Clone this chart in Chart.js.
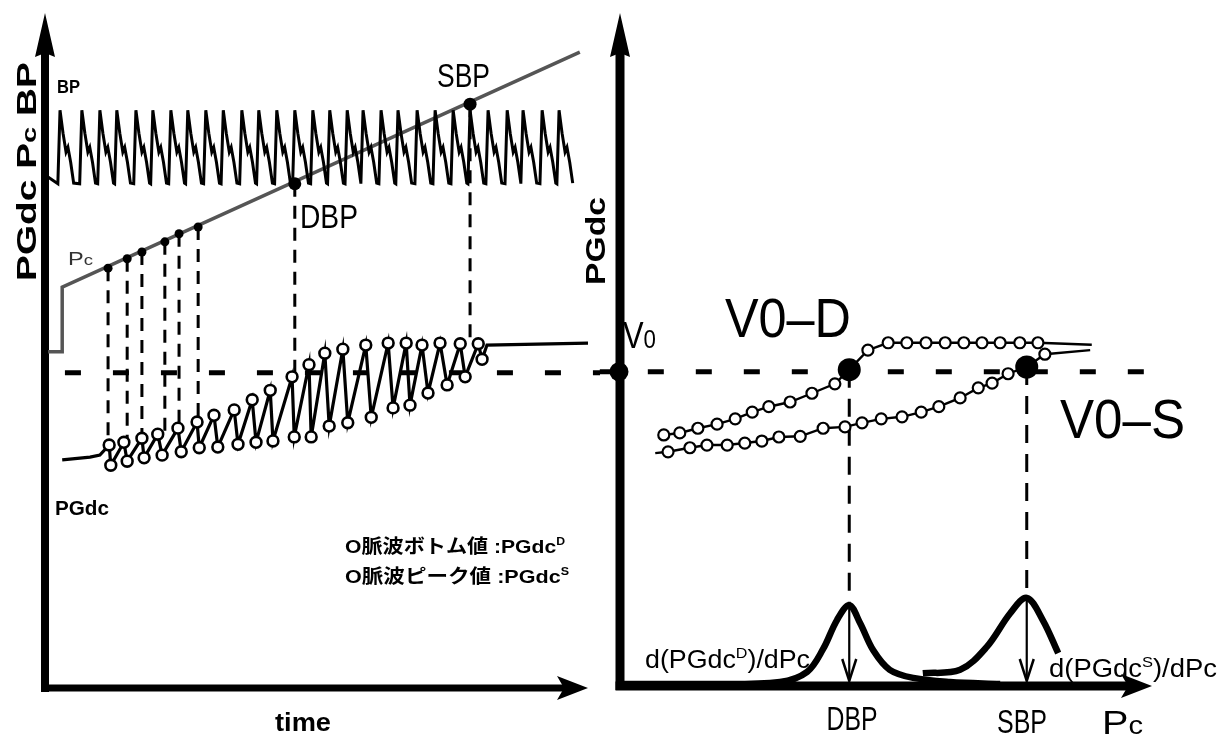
<!DOCTYPE html>
<html>
<head>
<meta charset="utf-8">
<script src="https://cdn.jsdelivr.net/npm/chart.js@4.4.1/dist/chart.umd.min.js"></script>
<style>
  body { margin: 0; background: #fff; }
  #wrap { position: relative; width: 1218px; height: 739px; }
  #left { position: absolute; left: 0; top: 0; width: 610px; height: 739px; }
  #right { position: absolute; left: 560px; top: 0; width: 658px; height: 739px; }
</style>
</head>
<body>
<div id="wrap">
  <div id="left"><canvas id="leftChart"></canvas></div>
  <div id="right"><canvas id="rightChart"></canvas></div>
</div>
<script>
// left panel: BP, cuff pressure Pc and PGdc over time (arbitrary units 0-100)
const bpPeakTimes = [3.3, 7.3, 10.6, 13.7, 17.2, 20.3, 23.6, 26.7, 30.0, 33.2, 36.6, 39.7, 43.0, 46.3, 49.6,
                     52.7, 55.9, 58.8, 62.1, 65.2, 68.7, 72.0, 75.3, 78.4, 81.7, 85.2, 88.1, 91.6, 94.7];
// one pulse: offsets from the peak and levels
const pulseOffsets = [-0.4, 0, 0.55, 1.1, 1.45, 1.95, 2.5];
const pulseLevels = [74.7, 85.6, 82.2, 79.4, 80.1, 77.9, 74.8];
const bpLead = [1.1, 75.7];

const pcTimes = [1.1, 3.7, 3.7, 98.5];
const pcLevels = [49.8, 49.8, 59.4, 94.2];

// sample points on Pc (last two are DBP and SBP) and where their dashed drops end
const markTimes = [12.1, 15.6, 18.3, 22.5, 25.1, 28.6, 46.3, 78.4];
const markPc = [62.2, 63.6, 64.6, 66.1, 67.3, 68.3, 74.7, 86.5];
const markFoot = [35.7, 36.3, 36.7, 37.3, 38.2, 39.1, 45.9, 50.8];

const pgTopTimes = [12.3, 15.0, 18.3, 21.2, 24.9, 28.4, 31.5, 35.2, 38.5, 41.8, 45.8, 48.9, 51.8, 55.1, 59.3, 63.4, 66.7, 69.6, 72.9, 76.6, 79.9];
const pgTopLevels = [36.0, 36.4, 37.0, 37.6, 38.5, 39.4, 40.4, 41.2, 42.7, 44.1, 46.1, 47.9, 49.6, 50.2, 50.8, 51.1, 51.1, 50.8, 51.1, 51.0, 51.0];
const pgBottomTimes = [12.6, 15.6, 18.7, 22.0, 25.5, 28.8, 32.2, 35.9, 39.2, 42.3, 46.2, 49.3, 52.6, 56.0, 60.3, 64.3, 67.4, 70.7, 74.2, 77.5, 80.6];
const pgBottomLevels = [33.0, 33.6, 34.1, 34.5, 35.0, 35.6, 35.7, 36.1, 36.4, 36.6, 37.2, 37.2, 38.8, 39.3, 40.1, 41.5, 41.9, 43.7, 44.9, 46.1, 48.7];
const pgLeadTimes = [3.7, 8.8, 10.6];
const pgLeadLevels = [33.8, 34.2, 34.5];
const pgTailTimes = [81.5, 100];
const pgTailLevels = [50.8, 51.1];

const v0Level = 46.7;

// right panel: PGdc against Pc
const dCurvePc = [7.7, 8.4, 11.4, 14.8, 18.4, 21.8, 25.0, 28.1, 32.1, 36.2, 40.5, 43.2, 46.7, 50.5, 54.0, 57.6, 61.2, 64.7, 68.1, 71.5, 75.2, 78.6, 88.7];
const dCurveLevels = [37.7, 37.3, 37.6, 38.3, 38.9, 39.7, 40.7, 41.5, 42.2, 43.5, 44.9, 47.0, 49.9, 51.0, 51.0, 51.0, 51.0, 51.0, 51.0, 51.0, 51.0, 51.0, 50.7];
const sCurvePc = [6.8, 9.2, 13.3, 16.5, 20.3, 23.6, 26.8, 30.0, 34.0, 38.3, 42.4, 45.6, 49.2, 53.1, 56.7, 60.0, 64.0, 67.4, 70.0, 73.0, 76.5, 79.9, 88.4];
const sCurveLevels = [34.6, 34.8, 35.4, 35.8, 35.8, 36.1, 36.4, 37.0, 37.1, 38.3, 38.5, 39.1, 39.7, 40.0, 40.7, 41.5, 42.8, 44.3, 45.0, 46.4, 47.4, 49.3, 49.9];
const dbpPc = 43.2, dbpLevel = 47.0;
const sbpPc = 76.5, sbpLevel = 47.4;

const dDerivPc = [0, 15.2, 30.2, 35.3, 38.3, 40.9, 43.2, 45.2, 47.7, 50.8, 55.2, 62.1, 71.5];
const dDerivLevels = [0.3, 0.3, 0.6, 2.1, 5.5, 9.8, 12.0, 9.4, 5.3, 2.4, 1.2, 0.6, 0.3];
const sDerivPc = [57.0, 64.0, 69.0, 73.4, 76.5, 79.5, 82.4];
const sDerivLevels = [1.9, 2.4, 5.8, 10.8, 13.1, 9.8, 4.9];

const F = "'Liberation Sans', Arial, sans-serif";
const J = "'Noto Sans CJK JP', sans-serif";

const pts = (xs, ys) => xs.map((x, i) => ({x: x, y: ys[i]}));

const lineSet = (data, width, opts) => Object.assign({
  data: data, showLine: true, borderColor: '#000', borderWidth: width, pointRadius: 0,
  pointHoverRadius: 0, fill: false, tension: 0, clip: false, order: 2
}, opts || {});

const dotSet = (data, r, fill, bw, opts) => Object.assign({
  data: data, showLine: false, pointRadius: r, pointHoverRadius: r, pointBackgroundColor: fill,
  pointBorderColor: '#000', pointBorderWidth: bw, clip: false, order: 0
}, opts || {});

// text with mixed runs, squeezed to the width it has in the picture
function drawRuns(ctx, it) {
  ctx.save();
  let total = 0;
  it.runs.forEach(r => { ctx.font = r[1] + ' ' + (r[3] || F); total += ctx.measureText(r[0]).width; });
  const s = it.w ? it.w / total : 1;
  ctx.translate(it.x, it.y);
  if (it.rot) ctx.rotate(-Math.PI / 2);
  ctx.scale(s, 1);
  let cx = it.align === 'center' ? -total / 2 : 0;
  ctx.fillStyle = it.color || '#000';
  ctx.textBaseline = 'alphabetic';
  it.runs.forEach(r => {
    ctx.font = r[1] + ' ' + (r[3] || F);
    ctx.fillText(r[0], cx, r[2] || 0);
    cx += ctx.measureText(r[0]).width;
  });
  ctx.restore();
}

function arrowHead(ctx, x, y, dx, dy, len, half, notch) {
  const nx = -dy, ny = dx;
  ctx.beginPath();
  ctx.moveTo(x, y);
  ctx.lineTo(x - dx * len + nx * half, y - dy * len + ny * half);
  ctx.lineTo(x - dx * (len - notch), y - dy * (len - notch));
  ctx.lineTo(x - dx * len - nx * half, y - dy * len - ny * half);
  ctx.closePath();
  ctx.fill();
}

function axesPlugin(offset, vWidth, hWidth) {
  return {
    id: 'axes',
    beforeDatasetsDraw(chart) {
      const ctx = chart.ctx, a = chart.chartArea;
      const ax = a.left + offset, ay = a.bottom;
      ctx.save();
      ctx.strokeStyle = '#000';
      ctx.fillStyle = '#000';
      ctx.lineCap = 'butt';
      ctx.lineWidth = vWidth;
      ctx.beginPath(); ctx.moveTo(ax, ay + 4); ctx.lineTo(ax, a.top + 30); ctx.stroke();
      arrowHead(ctx, ax, a.top, 0, -1, 44, 10, 4);
      ctx.lineWidth = hWidth;
      ctx.beginPath(); ctx.moveTo(ax - vWidth / 2, ay); ctx.lineTo(a.right - 20, ay); ctx.stroke();
      arrowHead(ctx, a.right, ay, 1, 0, 31, 12, 7);
      ctx.restore();
    }
  };
}

function labelsPlugin(items, dx, extra) {
  return {
    id: 'labels',
    afterDatasetsDraw(chart) {
      const ctx = chart.ctx;
      if (extra) extra(chart);
      items.forEach(it => drawRuns(ctx, Object.assign({}, it, {x: it.x - dx})));
    }
  };
}

const baseOptions = (padding) => ({
  responsive: true,
  maintainAspectRatio: false,
  animation: false,
  events: [],
  layout: {padding: padding},
  scales: {
    x: {type: 'linear', min: 0, max: 100, display: false},
    y: {type: 'linear', min: 0, max: 100, display: false}
  },
  plugins: {legend: {display: false}, tooltip: {enabled: false}}
});

// ---------- left chart ----------
const bpWave = [{x: bpLead[0], y: bpLead[1]}];
bpPeakTimes.forEach(t => pulseOffsets.forEach((o, i) => bpWave.push({x: t + o, y: pulseLevels[i]})));

const pgWave = pts(pgLeadTimes, pgLeadLevels);
pgTopTimes.forEach((t, i) => {
  pgWave.push({x: t, y: pgTopLevels[i]});
  pgWave.push({x: pgBottomTimes[i], y: pgBottomLevels[i]});
});
pgWave.push(...pts(pgTailTimes, pgTailLevels));

const leftSets = [
  dotSet(pts(markTimes.slice(0, 6), markPc.slice(0, 6)), 4.5, '#000', 0),
  dotSet(pts(markTimes.slice(6), markPc.slice(6)), 6.5, '#000', 0),
  dotSet(pts(pgTopTimes, pgTopLevels), 5.4, '#fff', 2.6, {order: 1}),
  dotSet(pts(pgBottomTimes, pgBottomLevels), 5.4, '#fff', 2.6, {order: 1}),
  lineSet(pgWave, 3.2),
  lineSet(bpWave, 3),
  lineSet(pts(pcTimes, pcLevels), 3.5, {borderColor: '#555', order: 3}),
  lineSet([{x: 4.2, y: v0Level}, {x: 102.2, y: v0Level}], 5, {borderDash: [16, 32], order: 4})
];
markTimes.forEach((t, i) => {
  leftSets.push(lineSet([{x: t, y: markPc[i]}, {x: t, y: markFoot[i]}], 3, {borderDash: [13, 9], order: 4}));
});

const leftLabels = [
  {runs: [['PGdc ', 'bold 28px'], ['P', 'bold 28px'], ['c', 'bold 21px'], [' BP', 'bold 28px']], x: 36, y: 281, w: 219, rot: true},
  {runs: [['BP', 'bold 19px']], x: 57, y: 93, w: 23},
  {runs: [['P', '19px'], ['c', '15px']], x: 68, y: 265, w: 25, color: '#333'},
  {runs: [['SBP', '33px']], x: 437, y: 87, w: 53},
  {runs: [['DBP', '33px']], x: 300, y: 228, w: 58},
  {runs: [['PGdc', 'bold 20px']], x: 55, y: 515, w: 54},
  {runs: [['O', 'bold 19px'], ['脈波ボトム値', 'bold 19px', 0, J], [' :PGdc', 'bold 19px'], ['D', 'bold 11px', -8]], x: 345, y: 553, w: 220},
  {runs: [['O', 'bold 19px'], ['脈波ピーク値', 'bold 19px', 0, J], [' :PGdc', 'bold 19px'], ['S', 'bold 11px', -8]], x: 345, y: 583, w: 224},
  {runs: [['time', 'bold 25px']], x: 303, y: 731, w: 56, align: 'center'}
];

new Chart(document.getElementById('leftChart'), {
  type: 'scatter',
  data: {datasets: leftSets},
  options: baseOptions({left: 42, right: 22, top: 13, bottom: 51}),
  plugins: [axesPlugin(3, 8, 7), labelsPlugin(leftLabels, 0)]
});

// ---------- right chart ----------
const dLine = pts(dCurvePc, dCurveLevels);
const sLine = pts(sCurvePc, sCurveLevels);

const rightSets = [
  dotSet([{x: 0, y: v0Level}], 9.5, '#000', 0),
  dotSet([{x: dbpPc, y: dbpLevel}, {x: sbpPc, y: sbpLevel}], 11.5, '#000', 0),
  dotSet(dLine.slice(1, -1), 5.5, '#fff', 2.2, {order: 1}),
  dotSet(sLine.slice(1, -1), 5.5, '#fff', 2.2, {order: 1}),
  lineSet(dLine, 2.4),
  lineSet(sLine, 2.4),
  lineSet(pts(dDerivPc, dDerivLevels), 6.5, {tension: 0.35}),
  lineSet(pts(sDerivPc, sDerivLevels), 6.5, {tension: 0.35}),
  lineSet([{x: dbpPc, y: dbpLevel}, {x: dbpPc, y: dDerivLevels[6]}], 3, {borderDash: [18, 11], order: 4}),
  lineSet([{x: sbpPc, y: sbpLevel}, {x: sbpPc, y: sDerivLevels[4]}], 3, {borderDash: [18, 11], order: 4}),
  lineSet([{x: dbpPc, y: dDerivLevels[6]}, {x: dbpPc, y: 0.8}], 2.2, {order: 3}),
  lineSet([{x: sbpPc, y: sDerivLevels[4]}, {x: sbpPc, y: 0.8}], 2.2, {order: 3}),
  lineSet([{x: -3.6, y: v0Level}, {x: 99.6, y: v0Level}], 5, {borderDash: [16, 32], order: 4})
];

const rightLabels = [
  {runs: [['PGdc', 'bold 28px']], x: 605, y: 285, w: 88, rot: true},
  {runs: [['V', '36px'], ['0', '26px']], x: 623, y: 348, w: 33},
  {runs: [['V0–D', '56px']], x: 725, y: 337, w: 126},
  {runs: [['V0–S', '56px']], x: 1060, y: 438, w: 125},
  {runs: [['d(PGdc', '25px'], ['D', '15px', -10], [')/dPc', '25px']], x: 645, y: 668, w: 165},
  {runs: [['d(PGdc', '25px'], ['S', '15px', -10], [')/dPc', '25px']], x: 1049, y: 677, w: 168},
  {runs: [['DBP', '34px']], x: 852, y: 730, w: 51, align: 'center'},
  {runs: [['SBP', '34px']], x: 1022, y: 733, w: 50, align: 'center'},
  {runs: [['P', '34px'], ['c', '25px']], x: 1102, y: 734, w: 41}
];

function downHeads(chart) {
  const ctx = chart.ctx, xs = chart.scales.x, a = chart.chartArea;
  ctx.save();
  ctx.strokeStyle = '#000';
  ctx.lineWidth = 2.5;
  [dbpPc, sbpPc].forEach(p => {
    const x = xs.getPixelForValue(p), y = a.bottom - 5;
    ctx.beginPath();
    ctx.moveTo(x - 7, y - 22); ctx.lineTo(x, y); ctx.lineTo(x + 7, y - 22);
    ctx.stroke();
  });
  ctx.restore();
}

new Chart(document.getElementById('rightChart'), {
  type: 'scatter',
  data: {datasets: rightSets},
  options: baseOptions({left: 59, right: 66, top: 13, bottom: 53}),
  plugins: [axesPlugin(1, 9, 9), labelsPlugin(rightLabels, 560, downHeads)]
});
</script>
</body>
</html>
